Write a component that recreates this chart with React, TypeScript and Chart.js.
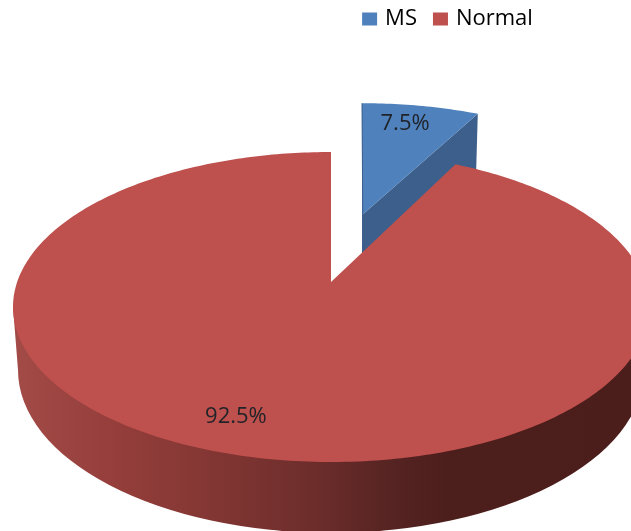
import React, { useEffect, useRef } from "react";
import { Chart, registerables } from "chart.js";

Chart.register(...registerables);

const categories = ["MS", "Normal"];
const shares = [7.5, 92.5];
const topColors = ["#4F81BD", "#BE504D"];
const FONT = "'Open Sans', sans-serif";
const TEXT = "#1f2328";

// Tilted-disc geometry of the picture (perspective, so the apex is off the ellipse centre)
const top = { cx: 331, cy: 307, rx: 318, ry: 155 };
const bottom = { cx: 331, cy: 370, rx: 313, ry: 163 };
const apex = { x: 331, y: 282 };
const PERSPECTIVE = 0.0815;
// Per-slice placing: [MS exploded out of the disc, Normal in place]
const sliceApex = [{ x: 362, y: 215 }, { x: 331, y: 282 }];
const sliceScale = [{ x: 0.93, y: 0.86 }, { x: 1, y: 1 }];
const labelFrac = [0.8, 0.76];
const labelNudge = [{ x: -4, y: -4 }, { x: -29, y: 2 }];

function rim(theta: number) {
  // circle point moved by a disc automorphism, so that equal angles bunch up at the back
  const wx = Math.sin(theta);
  const wy = Math.cos(theta);
  const a = PERSPECTIVE;
  const nx = wx;
  const ny = wy + a;
  const dx = 1 + a * wy;
  const dy = -a * wx;
  const d = dx * dx + dy * dy;
  const x = (nx * dx + ny * dy) / d;
  const y = (ny * dx - nx * dy) / d;
  return { x: top.cx + top.rx * x, y: top.cy - top.ry * y };
}

function slicePoint(i: number, theta: number) {
  const p = rim(theta);
  return {
    x: sliceApex[i].x + (p.x - apex.x) * sliceScale[i].x,
    y: sliceApex[i].y + (p.y - apex.y) * sliceScale[i].y,
  };
}

function pieAngles(el: any) {
  return [el.startAngle + Math.PI / 2, el.endAngle + Math.PI / 2];
}

function fillSlice(ctx: CanvasRenderingContext2D, i: number, a0: number, a1: number, color: string) {
  ctx.beginPath();
  ctx.moveTo(sliceApex[i].x, sliceApex[i].y);
  const n = Math.max(8, Math.ceil((a1 - a0) * 60));
  for (let k = 0; k <= n; k++) {
    const p = slicePoint(i, a0 + ((a1 - a0) * k) / n);
    ctx.lineTo(p.x, p.y);
  }
  ctx.closePath();
  ctx.fillStyle = color;
  ctx.fill();
}

const pie3d = {
  id: "pie3d",
  beforeDatasetDraw(chart: any, args: any) {
    const ctx: CanvasRenderingContext2D = chart.ctx;
    const arcs = args.meta.data;
    const [b0, b1] = pieAngles(arcs[0]);
    const [r0, r1] = pieAngles(arcs[1]);
    ctx.save();

    // MS: cut face, edge, top
    const end = slicePoint(0, b1);
    ctx.beginPath();
    ctx.moveTo(sliceApex[0].x, sliceApex[0].y);
    ctx.lineTo(end.x, end.y);
    ctx.lineTo(end.x - 2, end.y + 70);
    ctx.lineTo(sliceApex[0].x, sliceApex[0].y + 70);
    ctx.closePath();
    ctx.fillStyle = "#3C5F8B";
    ctx.fill();
    fillSlice(ctx, 0, b0, b1, topColors[0]);
    const start = slicePoint(0, b0);
    ctx.beginPath();
    ctx.moveTo(start.x, start.y);
    ctx.lineTo(sliceApex[0].x + 1, sliceApex[0].y + 40);
    ctx.strokeStyle = "#3C5F8B";
    ctx.lineWidth = 1;
    ctx.stroke();

    // Normal: wall
    const g = ctx.createLinearGradient(top.cx - top.rx, 0, top.cx + top.rx, 0);
    const stops: [number, string][] = [
      [0, "#A34B47"],
      [0.14, "#973F3C"],
      [0.3, "#843734"],
      [0.49, "#6A2C2A"],
      [0.58, "#582523"],
      [0.68, "#4C1E1C"],
      [1, "#4B1D1B"],
    ];
    stops.forEach(([o, c]) => g.addColorStop(o, c));
    ctx.beginPath();
    ctx.moveTo(top.cx - top.rx, top.cy);
    ctx.lineTo(bottom.cx - bottom.rx, bottom.cy);
    ctx.ellipse(bottom.cx, bottom.cy, bottom.rx, bottom.ry, 0, Math.PI, 0, true);
    ctx.lineTo(top.cx + top.rx, top.cy);
    ctx.closePath();
    ctx.fillStyle = g;
    ctx.fill();

    // Normal: top
    fillSlice(ctx, 1, r0, r1, topColors[1]);

    // value labels
    ctx.font = `22px ${FONT}`;
    ctx.fillStyle = TEXT;
    ctx.textAlign = "center";
    ctx.textBaseline = "middle";
    arcs.forEach((el: any, i: number) => {
      const [s, e] = pieAngles(el);
      const p = slicePoint(i, (s + e) / 2);
      const x = sliceApex[i].x + (p.x - sliceApex[i].x) * labelFrac[i] + labelNudge[i].x;
      const y = sliceApex[i].y + (p.y - sliceApex[i].y) * labelFrac[i] + labelNudge[i].y;
      ctx.fillText(`${shares[i].toFixed(1)}%`, x, y);
    });

    ctx.restore();
    return false;
  },
};

export default function App() {
  const ref = useRef<HTMLCanvasElement>(null);
  useEffect(() => {
    const chart = new Chart(ref.current!, {
      type: "pie",
      data: {
        labels: categories,
        datasets: [{ data: shares, backgroundColor: topColors, borderWidth: 0 }],
      },
      plugins: [pie3d],
      options: {
        animation: false,
        responsive: false,
        devicePixelRatio: 1,
        events: [],
        layout: { padding: { left: 267, top: -11 } },
        plugins: {
          tooltip: { enabled: false },
          legend: {
            position: "top",
            labels: {
              boxWidth: 9,
              boxHeight: 7,
              padding: 19,
              color: TEXT,
              font: { family: FONT, size: 22 },
              generateLabels: () =>
                categories.map((text, i) => ({
                  text,
                  index: i,
                  fillStyle: topColors[i],
                  strokeStyle: topColors[i],
                  lineWidth: 6,
                  hidden: false,
                })),
            },
          },
        },
      },
    } as any);
    return () => chart.destroy();
  }, []);
  return (
    <div style={{ position: "fixed", left: 0, top: 0, width: 631, height: 531, overflow: "hidden", background: "#fff" }}>
      <canvas ref={ref} width={631} height={531} style={{ display: "block" }} />
    </div>
  );
}
